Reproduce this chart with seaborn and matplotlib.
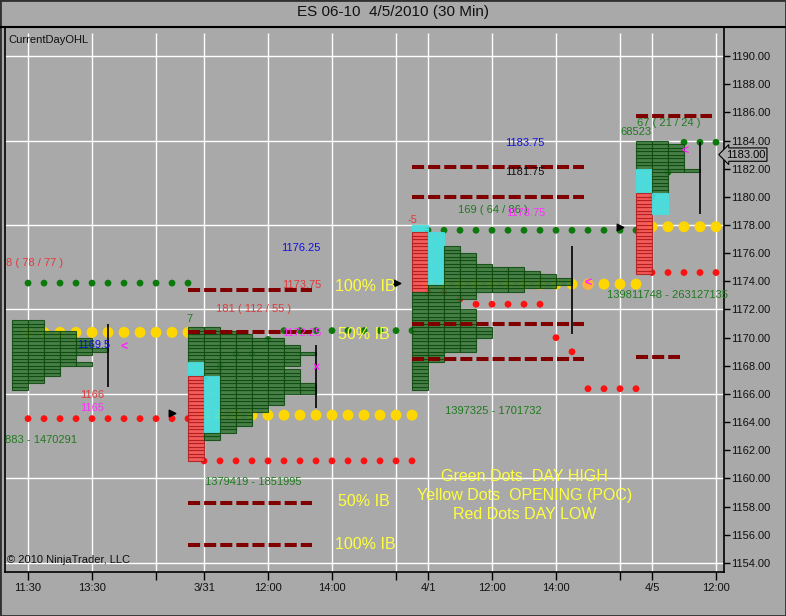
import matplotlib
matplotlib.use("Agg")
import matplotlib.pyplot as plt
from matplotlib.lines import Line2D
from matplotlib.patches import Rectangle
import pandas as pd
import seaborn as sns

# x = 30 min bar slot, 0 = 3/30 11:30
tick_pos = [0, 4, 8, 11, 15, 19, 23, 25, 29, 33, 37, 39, 43]
tick_lab = ["11:30", "13:30", "", "3/31", "12:00", "14:00", "", "4/1", "12:00", "14:00", "", "4/5", "12:00"]
price_ticks = [1154, 1156, 1158, 1160, 1162, 1164, 1166, 1168, 1170, 1172, 1174, 1176, 1178, 1180, 1182, 1184, 1186, 1188, 1190]
grid_prices = [1154, 1160, 1166, 1172, 1178, 1184, 1190]

# CurrentDayOHL dots, one per bar
bars = list(range(44))
day_high = [1173.875, 1173.875, 1173.875, 1173.875, 1173.875, 1173.875, 1173.875, 1173.875, 1173.875, 1173.875, 1173.875,
            1167.125, 1168.0, 1168.875, 1168.875, 1169.875, 1170.5, 1170.5, 1170.5, 1170.5, 1170.5, 1170.5, 1170.5, 1170.5, 1170.5,
            1177.625, 1177.625, 1177.625, 1177.625, 1177.625, 1177.625, 1177.625, 1177.625, 1177.625, 1177.625, 1177.625, 1177.625, 1177.625, 1177.625,
            1180.0, 1181.75, 1183.875, 1183.875, 1183.875]
day_open = [1170.375, 1170.375, 1170.375, 1170.375, 1170.375, 1170.375, 1170.375, 1170.375, 1170.375, 1170.375, 1170.375,
            1164.5, 1164.5, 1164.5, 1164.5, 1164.5, 1164.5, 1164.5, 1164.5, 1164.5, 1164.5, 1164.5, 1164.5, 1164.5, 1164.5,
            1173.8, 1173.8, 1173.8, 1173.8, 1173.8, 1173.8, 1173.8, 1173.8, 1173.8, 1173.8, 1173.8, 1173.8, 1173.8, 1173.8,
            1177.875, 1177.875, 1177.875, 1177.875, 1177.875]
day_low = [1164.25, 1164.25, 1164.25, 1164.25, 1164.25, 1164.25, 1164.25, 1164.25, 1164.25, 1164.25, 1164.25,
           1161.25, 1161.25, 1161.25, 1161.25, 1161.25, 1161.25, 1161.25, 1161.25, 1161.25, 1161.25, 1161.25, 1161.25, 1161.25, 1161.25,
           1173.25, 1173.25, 1172.75, 1172.375, 1172.375, 1172.375, 1172.375, 1172.375, 1170.0, 1169.0, 1166.375, 1166.375, 1166.375, 1166.375,
           1174.625, 1174.625, 1174.625, 1174.625, 1174.625]

# market profile columns: (first slot, [[(kind, low, high), ...] per column])
prof_330 = (-1, [[("g", 1166.25, 1171.25)],
                 [("g", 1166.75, 1171.25)],
                 [("g", 1167.25, 1170.5)],
                 [("g", 1168.0, 1170.5)],
                 [("g", 1168.75, 1170.0), ("g", 1168.0, 1168.25)],
                 [("g", 1169.0, 1169.25)]])
prof_331 = (10, [[("g", 1168.25, 1170.75), ("c", 1167.25, 1168.25), ("r", 1161.25, 1167.25)],
                 [("g", 1167.25, 1170.75), ("c", 1163.25, 1167.25), ("g", 1162.75, 1163.25)],
                 [("g", 1163.25, 1170.5)],
                 [("g", 1163.75, 1170.25)],
                 [("g", 1164.75, 1170.0)],
                 [("g", 1165.25, 1170.0)],
                 [("g", 1168.0, 1169.5), ("g", 1166.0, 1167.75)],
                 [("g", 1168.75, 1169.0), ("g", 1166.0, 1166.75)]])
prof_401 = (24, [[("c", 1177.5, 1178.0), ("r", 1173.25, 1177.5), ("g", 1166.25, 1173.25)],
                 [("c", 1173.75, 1177.5), ("g", 1168.25, 1173.75)],
                 [("g", 1169.0, 1176.5)],
                 [("g", 1172.75, 1176.0), ("g", 1169.0, 1172.0)],
                 [("g", 1173.25, 1175.25), ("g", 1170.0, 1170.75)],
                 [("g", 1173.25, 1175.0)],
                 [("g", 1173.25, 1175.0)],
                 [("g", 1173.5, 1174.75)],
                 [("g", 1173.5, 1174.5)],
                 [("g", 1173.75, 1174.25)]])
prof_405 = (38, [[("g", 1182.0, 1184.0), ("c", 1180.25, 1182.0), ("r", 1174.5, 1180.25)],
                 [("g", 1180.25, 1184.0), ("c", 1178.75, 1180.25)],
                 [("g", 1181.75, 1183.75)],
                 [("g", 1181.75, 1182.0)]])

# IB dashed levels
ib_price = [1173.375, 1170.375, 1158.25, 1155.25, 1182.125, 1180.0, 1171.0, 1168.5, 1185.75, 1168.625]
ib_from = [10, 10, 10, 10, 24, 24, 24, 24, 38, 38]
ib_to = [17.75, 17.75, 17.75, 17.75, 34.75, 34.75, 34.75, 34.75, 42.75, 40.75]

# value area lines
va_slot = [5, 18, 34, 42]
va_low = [1166.5, 1165.0, 1170.25, 1178.75]
va_high = [1171.0, 1169.5, 1176.5, 1183.875]

labels = [
    (-1.4, 1175.3, "8 ( 78 / 77 )", "#e03a3a", 8),
    (-1.45, 1162.7, "883 - 1470291", "#1f7a1f", 8),
    (3.05, 1169.5, "1169.5", "#1010e0", 8),
    (3.25, 1165.9, "1166", "#e03a3a", 8),
    (3.25, 1165.0, "1165", "#ff30ff", 8),
    (9.9, 1171.3, "7", "#1f7a1f", 8),
    (11.75, 1172.0, "181 ( 112 / 55 )", "#e03a3a", 8),
    (15.9, 1173.75, "1173.75", "#e03a3a", 8),
    (15.8, 1176.35, "1176.25", "#1010e0", 8),
    (15.9, 1170.3, "1172.25", "#ff30ff", 8),
    (11.05, 1159.75, "1379419 - 1851995", "#1f7a1f", 8),
    (29.8, 1183.8, "1183.75", "#1010e0", 8),
    (29.8, 1181.75, "1181.75", "#101010", 8),
    (26.9, 1179.05, "169 ( 64 / 86 )", "#1f7a1f", 8),
    (29.9, 1178.85, "1178.75", "#ff30ff", 8),
    (23.7, 1178.35, "-5", "#e03a3a", 8),
    (26.05, 1164.8, "1397325 - 1701732", "#1f7a1f", 8),
    (38.05, 1185.25, "67 ( 21 / 24 )", "#1f7a1f", 8),
    (37.05, 1184.6, "68523", "#1f7a1f", 8),
    (36.2, 1173.0, "139811748 - 263127135", "#1f7a1f", 8),
]
ib_notes = [(19.2, 1173.65, "100% IB"), (19.4, 1170.2, "50% IB"),
            (19.4, 1158.4, "50% IB"), (19.2, 1155.3, "100% IB")]
legend_lines = ["Green Dots  DAY HIGH", "Yellow Dots  OPENING (POC)", "Red Dots DAY LOW"]
legend_y = [1160.15, 1158.8, 1157.45]

marks_x = [6, 18, 35, 41.05]
marks_y = [1169.3, 1167.85, 1173.8, 1183.2]
marks_t = ["<", "×", "<", "<"]
arrow_x = [9, 23.05, 37]
arrow_y = [1164.65, 1173.9, 1177.85]

cell_style = {"g": ("#3b7a3b", "#0d4a0d"), "c": ("#46e0e0", "#46e0e0"), "r": ("#ff5252", "#b01c1c")}
bg = "#a9a9a9"

sns.set_theme(style="white")
plt.rcParams["font.family"] = ["Liberation Sans", "DejaVu Sans"]

W, H = 786, 616
fig = plt.figure(figsize=(W / 100, H / 100), dpi=100)
fig.patch.set_facecolor(bg)
ax = fig.add_axes([5 / W, 44 / H, 719 / W, 545 / H])
ax.set_facecolor(bg)
ax.set_xlim(-1.44, 43.5)
ax.set_ylim(1153.36, 1192.06)

# grid
ax.hlines(grid_prices, -1.44, 43.5, color="white", lw=1.0, zorder=1)
ax.vlines(tick_pos, 1153.36, 1191.6, color="white", lw=1.0, zorder=1)

# dots
dots = pd.DataFrame({"bar": bars, "high": day_high, "open": day_open, "low": day_low})
sns.scatterplot(data=dots, x="bar", y="open", color="#ffd700", s=62, marker="o", edgecolor="none", ax=ax, zorder=2)
sns.scatterplot(data=dots, x="bar", y="high", color="#0b7a0b", s=24, edgecolor="none", ax=ax, zorder=2)
sns.scatterplot(data=dots, x="bar", y="low", color="#ff1010", s=24, edgecolor="none", ax=ax, zorder=2)
ax.scatter([35], [1173.8], s=62, color="#ffb040", edgecolor="none", zorder=2)

# profiles
for start, cols in [prof_330, prof_331, prof_401, prof_405]:
    for j, col in enumerate(cols):
        for kind, lo, hi in col:
            n = int(round((hi - lo) / 0.25))
            bottoms = [lo + 0.25 * k for k in range(n)]
            fc, ec = cell_style[kind]
            ax.bar([start + j] * n, [0.25] * n, bottom=bottoms, width=1, align="edge",
                   color=fc, edgecolor=ec, linewidth=0.8, alpha=0.88, zorder=3)

# IB levels
for p, a, b in zip(ib_price, ib_from, ib_to):
    ax.hlines(p, a, b, color="#800000", lw=2.9, linestyles=[(0, (3, 1))], zorder=4)

ax.vlines(va_slot, va_low, va_high, color="black", lw=1.2, zorder=5)

for x, y, t in zip(marks_x, marks_y, marks_t):
    ax.text(x, y, t, color="#ff20ff", fontsize=9, fontweight="bold", ha="center", va="center", zorder=6)
ax.scatter(arrow_x, arrow_y, marker=">", s=22, color="black", zorder=6)

for x, y, t, c, fs in labels:
    ax.text(x, y, t, color=c, fontsize=fs, ha="left", va="center", zorder=6)
for x, y, t in ib_notes:
    ax.text(x, y, t, color="#ffff40", fontsize=11.5, ha="left", va="center", zorder=6)
for t, y in zip(legend_lines, legend_y):
    ax.text(31.05, y, t, color="#ffff40", fontsize=11.5, ha="center", va="center", zorder=6)

ax.text(0.004, 0.985, "CurrentDayOHL", transform=ax.transAxes, fontsize=8, color="#101010", ha="left", va="top")
ax.text(0.003, 0.012, "© 2010 NinjaTrader, LLC", transform=ax.transAxes, fontsize=8, color="#101010", ha="left", va="bottom")

# current price marker
ax.text(43.62, 1183.0, "1183.00", fontsize=8, color="black", ha="left", va="center", clip_on=False,
        bbox=dict(boxstyle="larrow,pad=0.15", fc=bg, ec="black", lw=0.8), zorder=7)

# axes
ax.set_xticks(tick_pos, tick_lab)
ax.yaxis.tick_right()
ax.set_yticks(price_ticks, [f"{v:.2f}" for v in price_ticks])
ax.tick_params(axis="x", direction="out", length=6, width=1, color="black", labelsize=8, labelcolor="#101010", pad=2, bottom=True)
ax.tick_params(axis="y", direction="out", length=4, width=1, color="black", labelsize=8, labelcolor="#101010", pad=1, right=True, left=False)
ax.set_xlabel("")
ax.set_ylabel("")
for side in ["left", "bottom", "right"]:
    ax.spines[side].set_color("black")
    ax.spines[side].set_linewidth(1.2)
ax.spines["top"].set_visible(False)

fig.add_artist(Line2D([0, 1], [1 - 27 / H, 1 - 27 / H], color="black", lw=1.5, transform=fig.transFigure))
fig.add_artist(Rectangle((0, 0), 1, 1, fill=False, ec="#303030", lw=2, transform=fig.transFigure))
fig.text(0.5, 1 - 12 / H, "ES 06-10  4/5/2010 (30 Min)", ha="center", va="center", fontsize=11, color="#101010")

fig.savefig("out.png", dpi=100, facecolor=bg)
